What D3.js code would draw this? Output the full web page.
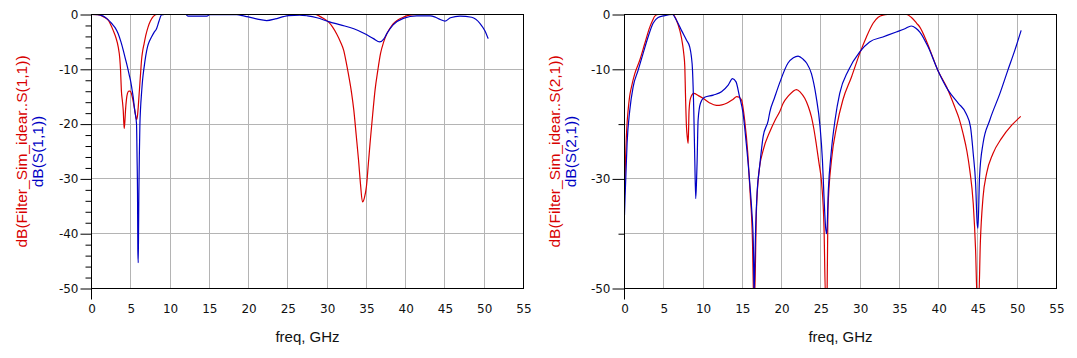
<!DOCTYPE html>
<html>
<head>
<meta charset="utf-8">
<script src="https://cdn.jsdelivr.net/npm/d3@7"></script>
<style>
  html, body { margin: 0; padding: 0; background: #fff; }
  svg { display: block; }
</style>
</head>
<body>
<svg id="chart" width="1077" height="358"></svg>
<script>
// ---------------- DATA ----------------
const xTickValues = [0, 5, 10, 15, 20, 25, 30, 35, 40, 45, 50, 55];
const xGridValues = [5, 10, 15, 20, 25, 30, 35, 40, 45, 50];
const yGridValues = [-10, -20, -30, -40];
const leftYMajorTicks = [0, -10, -20, -30, -40, -50];
const leftYMinorTicks = [-2, -4, -6, -8, -12, -14, -16, -18, -22, -24, -26, -28, -32, -34, -36, -38, -42, -44, -46, -48];
const rightYMajorTicks = [0, -10, -30, -50];
const rightYMinorTicks = [-20, -40];

const xAxisTitle = "freq, GHz";
const leftLabels = ["dB(Filter_Sim_idear..S(1,1))", "dB(S(1,1))"];
const rightLabels = ["dB(Filter_Sim_idear..S(2,1))", "dB(S(2,1))"];

// [freq GHz, dB]
const s11Ideal = [[0,0],[0.8,-0.05],[1.5,-0.4],[2.1,-1.0],[2.76,-2.9],[3.1,-4.2],[3.4,-5.9],[3.6,-8.0],[3.7,-10.2],[3.8,-13.8],[3.95,-16],[4.04,-17.5],[4.16,-20.8],[4.25,-19.5],[4.33,-17.5],[4.45,-15.5],[4.58,-14.4],[4.75,-14.0],[4.9,-14.0],[5.05,-14.3],[5.18,-15],[5.35,-16.2],[5.52,-17.5],[5.73,-19.2],[5.85,-18.5],[5.95,-16.9],[6.05,-14.8],[6.16,-12.6],[6.27,-10.3],[6.37,-8.3],[6.5,-6.8],[6.7,-5.3],[6.95,-3.6],[7.2,-2.3],[7.5,-1.2],[7.85,-0.4],[8.3,0],[28.5,0],[29.0,-0.3],[29.5,-0.7],[30.2,-1.4],[30.7,-2.3],[31.2,-3.5],[31.7,-5.0],[32.1,-6.5],[32.4,-8.5],[32.7,-10.8],[33.1,-14.2],[33.4,-17.5],[33.7,-22],[34.0,-26.6],[34.25,-31],[34.5,-34.2],[34.75,-33.4],[35.0,-31.4],[35.25,-27.2],[35.5,-22.9],[35.8,-18.2],[36.1,-13.8],[36.45,-10.2],[36.8,-7.1],[37.2,-5.0],[37.6,-3.5],[38.0,-2.5],[38.4,-1.7],[39.0,-1.0],[39.7,-0.5],[40.5,-0.1],[41.5,0],[50.5,0]];

const s11Meas = [[0,0],[0.8,-0.05],[1.5,-0.3],[2.0,-0.8],[2.55,-1.6],[3.0,-2.4],[3.4,-3.5],[3.75,-5.0],[4.04,-6.5],[4.3,-8.0],[4.58,-9.6],[4.8,-11],[5.0,-12.3],[5.15,-13.6],[5.3,-15],[5.5,-17.5],[5.73,-19.9],[5.8,-26],[5.86,-32.7],[5.9,-43],[5.95,-45.3],[6.0,-38],[6.03,-32.7],[6.1,-25],[6.16,-20.2],[6.25,-17],[6.37,-14.4],[6.5,-12],[6.7,-9.6],[6.9,-7.6],[7.13,-5.9],[7.4,-4.8],[7.64,-4.1],[7.95,-3.3],[8.28,-2.6],[8.6,-1.2],[8.9,-0.1],[9.3,0],[12.0,0],[12.3,-0.3],[14.7,-0.3],[15.0,-0.05],[18.5,-0.05],[19.2,-0.2],[19.8,-0.4],[21.0,-0.8],[22.3,-1.1],[23.4,-0.8],[24.4,-0.4],[25.1,-0.2],[26.5,-0.1],[27.5,-0.25],[28.7,-0.6],[30.2,-1.3],[31.7,-1.9],[33.4,-2.6],[34.8,-3.5],[35.9,-4.4],[36.7,-5.0],[37.2,-4.5],[37.6,-3.5],[38.4,-1.9],[39.7,-0.7],[41.4,-0.25],[43.1,-0.25],[43.8,-0.5],[44.4,-0.9],[45.0,-1.2],[45.7,-0.6],[46.9,-0.3],[48.4,-0.5],[49.5,-1.7],[50.1,-3.0],[50.5,-4.4]];

const s21Ideal = [[0,-33],[0.08,-29],[0.17,-24.8],[0.3,-20.5],[0.46,-17.5],[0.65,-15],[0.89,-13.2],[1.31,-10.8],[1.95,-8.3],[2.58,-5.3],[3.22,-2.3],[3.6,-1.0],[3.86,-0.3],[4.3,0],[6.2,0],[6.6,-1.0],[7.04,-2.9],[7.38,-5.3],[7.55,-7.2],[7.68,-9.6],[7.76,-14.4],[7.89,-20.5],[8.0,-22.5],[8.1,-23.5],[8.16,-21],[8.22,-17.5],[8.4,-15.3],[8.82,-14.4],[9.4,-14.8],[10.0,-15.3],[10.8,-16.1],[11.7,-16.6],[12.4,-16.5],[13.0,-16.2],[13.8,-15.5],[14.3,-15.0],[14.6,-15.1],[14.9,-15.6],[15.3,-19.3],[15.7,-25.4],[16.0,-32.7],[16.3,-41.8],[16.4,-49.7],[16.5,-52],[16.6,-50],[16.8,-35.7],[17.1,-29],[17.65,-24.8],[18.5,-21.4],[19.2,-19.2],[19.8,-17.6],[20.2,-16.2],[20.9,-14.8],[21.9,-13.7],[22.4,-14.2],[22.95,-15.3],[23.4,-16.8],[23.8,-18.7],[24.1,-20.8],[24.4,-23.5],[24.75,-27],[25.1,-30.8],[25.4,-38.8],[25.6,-52],[25.8,-50],[25.9,-35.7],[26.35,-26.6],[27.0,-20.5],[27.8,-15.6],[28.9,-11.4],[29.95,-7.1],[30.8,-4.1],[31.65,-1.6],[32.3,-0.5],[32.9,-0.1],[33.5,0],[35.9,0],[36.5,-0.5],[37.2,-1.6],[37.6,-2.3],[38.4,-4.7],[38.9,-6.5],[39.9,-10.2],[41.0,-13.2],[42.05,-16.9],[42.6,-19],[43.1,-21.7],[43.6,-25],[43.96,-28.4],[44.4,-34.5],[44.7,-43],[44.9,-52],[45.1,-52],[45.3,-41.8],[45.65,-33.3],[46.1,-29],[46.9,-25.4],[48.0,-22.6],[49.3,-20.2],[50.45,-18.6]];

const s21Meas = [[0,-36.6],[0.08,-33],[0.17,-29.6],[0.33,-23.5],[0.67,-17.5],[1.1,-13.2],[1.73,-10.2],[2.37,-7.1],[3.0,-4.1],[3.64,-1.6],[4.28,-0.55],[5.13,-0.2],[6.1,0],[6.6,-1.0],[7.25,-2.9],[7.9,-4.7],[8.3,-5.9],[8.5,-7.5],[8.66,-10.2],[8.82,-17.5],[8.95,-26.6],[9.07,-33.6],[9.18,-30],[9.25,-26.6],[9.37,-19.3],[9.67,-16.2],[10.2,-15.1],[11.3,-14.7],[12.35,-14.1],[13.2,-12.9],[13.75,-11.7],[14.2,-12.3],[14.6,-14.7],[15.1,-18.1],[15.5,-23.5],[15.95,-30.8],[16.2,-35.7],[16.4,-41.8],[16.5,-51],[16.6,-45],[16.7,-38.8],[16.9,-32.1],[17.2,-27.8],[17.65,-22.3],[18.3,-19.3],[18.5,-17.8],[19.1,-15.2],[19.8,-12.3],[20.8,-8.9],[21.5,-7.9],[22.1,-7.6],[22.7,-8.1],[23.2,-8.9],[23.8,-10.8],[24.4,-15.0],[24.9,-20.5],[25.2,-26.6],[25.4,-33.3],[25.6,-38.8],[25.75,-40],[25.95,-32.1],[26.3,-25.4],[26.8,-19.3],[27.4,-14.4],[28.5,-10.2],[29.95,-6.8],[31.2,-5.0],[32.9,-4.1],[34.6,-3.2],[35.7,-2.6],[36.5,-2.1],[37.1,-2.5],[37.6,-3.2],[38.65,-5.9],[39.9,-10.2],[41.2,-13.8],[42.5,-16.2],[43.5,-18.1],[44.05,-20.5],[44.4,-25.4],[44.7,-30.8],[44.9,-38.1],[45.0,-39],[45.2,-29.6],[45.65,-23.5],[46.5,-19.3],[47.8,-14.4],[48.8,-10.2],[49.7,-6.5],[50.5,-2.9]];

// ---------------- DRAWING ----------------
const svg = d3.select("#chart");
const RED = "#d80000", BLUE = "#0000c4", GRID = "#b4b4b4";
const tickFont = "'DejaVu Sans', Verdana, sans-serif";
const labelFont = "'Liberation Sans', Arial, sans-serif";

const panels = [
  { id: "p1", left: 91.5, majors: leftYMajorTicks, minors: leftYMinorTicks, labels: leftLabels, red: s11Ideal, blue: s11Meas, majorLen: 11 },
  { id: "p2", left: 624.5, majors: rightYMajorTicks, minors: rightYMinorTicks, labels: rightLabels, red: s21Ideal, blue: s21Meas, majorLen: 12 }
];
const plotTop = 14.5, plotW = 432, plotH = 274;

panels.forEach(p => {
  const g = svg.append("g");
  const x = d3.scaleLinear().domain([0, 55]).range([p.left, p.left + plotW]);
  const y = d3.scaleLinear().domain([-50, 0]).range([plotTop + plotH, plotTop]);
  const snap = v => Math.round(v - 0.5) + 0.5;

  // grid
  g.append("g").selectAll("line").data(xGridValues).join("line")
    .attr("x1", d => snap(x(d))).attr("x2", d => snap(x(d)))
    .attr("y1", plotTop).attr("y2", plotTop + plotH)
    .attr("stroke", GRID).attr("stroke-width", 1);
  g.append("g").selectAll("line").data(yGridValues).join("line")
    .attr("y1", d => snap(y(d))).attr("y2", d => snap(y(d)))
    .attr("x1", p.left).attr("x2", p.left + plotW)
    .attr("stroke", GRID).attr("stroke-width", 1);

  // clip
  svg.append("clipPath").attr("id", "clip-" + p.id)
    .append("rect").attr("x", p.left).attr("y", plotTop - 1).attr("width", plotW).attr("height", plotH + 1);

  const line = d3.line().x(d => x(d[0])).y(d => y(d[1])).curve(d3.curveMonotoneX);
  const curves = g.append("g").attr("clip-path", "url(#clip-" + p.id + ")");
  curves.append("path").datum(p.red).attr("d", line)
    .attr("fill", "none").attr("stroke", RED).attr("stroke-width", 1.2).attr("stroke-linejoin", "round");
  curves.append("path").datum(p.blue).attr("d", line)
    .attr("fill", "none").attr("stroke", BLUE).attr("stroke-width", 1.2).attr("stroke-linejoin", "round");

  // border
  g.append("rect").attr("x", p.left).attr("y", plotTop).attr("width", plotW).attr("height", plotH)
    .attr("fill", "none").attr("stroke", "#000").attr("stroke-width", 1);
  // y-axis extension below x-axis
  g.append("line").attr("x1", p.left).attr("x2", p.left).attr("y1", plotTop + plotH).attr("y2", plotTop + plotH + 11)
    .attr("stroke", "#000");

  // x axis labels
  const xAxis = g.append("g").attr("transform", `translate(0,${plotTop + plotH})`)
    .call(d3.axisBottom(x).tickValues(xTickValues).tickSize(0).tickPadding(16).tickFormat(d => String(d)));
  xAxis.select(".domain").remove();
  xAxis.selectAll("text").attr("font-family", tickFont).attr("font-size", 12).attr("fill", "#111");

  // y axis major
  const yAxis = g.append("g").attr("transform", `translate(${p.left},0)`)
    .call(d3.axisLeft(y).tickValues(p.majors).tickSize(p.majorLen).tickPadding(2).tickFormat(d => String(d)));
  yAxis.select(".domain").remove();
  yAxis.selectAll("line").attr("stroke", "#000");
  yAxis.selectAll("text").attr("font-family", tickFont).attr("font-size", 12).attr("fill", "#111");
  // y axis minor
  const yMinor = g.append("g").attr("transform", `translate(${p.left},0)`)
    .call(d3.axisLeft(y).tickValues(p.minors).tickSize(6).tickFormat(""));
  yMinor.select(".domain").remove();
  yMinor.selectAll("line").attr("stroke", "#000");

  // y labels
  const cy = plotTop + plotH / 2;
  [[p.labels[0], RED, p.left - 70], [p.labels[1], BLUE, p.left - 54]].forEach(([t, c, cx]) => {
    g.append("text").attr("transform", `translate(${cx},${cy}) rotate(-90)`)
      .attr("text-anchor", "middle").attr("dominant-baseline", "central")
      .attr("font-family", labelFont).attr("font-size", 15.5).attr("fill", c).text(t);
  });

  // x title
  g.append("text").attr("x", p.left + plotW / 2).attr("y", 342)
    .attr("text-anchor", "middle").attr("font-family", labelFont).attr("font-size", 15)
    .attr("fill", "#111").text(xAxisTitle);
});
</script>
</body>
</html>
